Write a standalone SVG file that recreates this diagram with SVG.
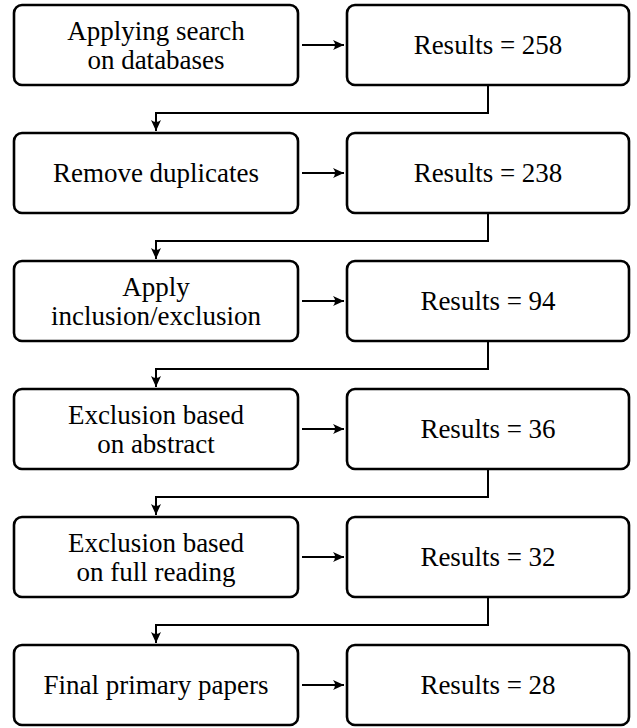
<svg xmlns="http://www.w3.org/2000/svg" width="637" height="728" viewBox="0 0 637 728">
<style>
.box{fill:#fff;stroke:#000;stroke-width:2.6}
text{font-family:'Liberation Serif','Times New Roman',Times,'Nimbus Roman','Nimbus Roman No9 L',FreeSerif,'Noto Serif','DejaVu Serif',Tinos,serif;font-size:27px;fill:#000;text-anchor:middle}
.c{fill:none;stroke:#000;stroke-width:2}
</style>
<defs>
<marker id="ah" markerUnits="userSpaceOnUse" markerWidth="14" markerHeight="12" viewBox="-12 -6 14 12" refX="0" refY="0" orient="auto">
<path d="M0,0 L-11,-5 Q-7,0 -11,5 Z" fill="#000"/>
</marker>
</defs>
<g id="n1"><rect class="box" x="14" y="5" width="284" height="80" rx="8"/><text x="156" y="39.5">Applying search</text><text x="156" y="68.5">on databases</text></g>
<g id="r1"><rect class="box" x="347" y="5" width="282" height="80" rx="8"/><text x="488" y="54">Results = 258</text></g>
<g id="n2"><rect class="box" x="14" y="133" width="284" height="80" rx="8"/><text x="156" y="182">Remove duplicates</text></g>
<g id="r2"><rect class="box" x="347" y="133" width="282" height="80" rx="8"/><text x="488" y="182">Results = 238</text></g>
<g id="n3"><rect class="box" x="14" y="261" width="284" height="80" rx="8"/><text x="156" y="295.5">Apply</text><text x="156" y="324.5">inclusion/exclusion</text></g>
<g id="r3"><rect class="box" x="347" y="261" width="282" height="80" rx="8"/><text x="488" y="310">Results = 94</text></g>
<g id="n4"><rect class="box" x="14" y="389" width="284" height="80" rx="8"/><text x="156" y="423.5">Exclusion based</text><text x="156" y="452.5">on abstract</text></g>
<g id="r4"><rect class="box" x="347" y="389" width="282" height="80" rx="8"/><text x="488" y="438">Results = 36</text></g>
<g id="n5"><rect class="box" x="14" y="517" width="284" height="80" rx="8"/><text x="156" y="551.5">Exclusion based</text><text x="156" y="580.5">on full reading</text></g>
<g id="r5"><rect class="box" x="347" y="517" width="282" height="80" rx="8"/><text x="488" y="566">Results = 32</text></g>
<g id="n6"><rect class="box" x="14" y="645" width="284" height="80" rx="8"/><text x="156" y="694">Final primary papers</text></g>
<g id="r6"><rect class="box" x="347" y="645" width="282" height="80" rx="8"/><text x="488" y="694">Results = 28</text></g>
<g id="connectors">
<path class="c" marker-end="url(#ah)" d="M302,45 H344"/>
<path class="c" marker-end="url(#ah)" d="M302,173 H344"/>
<path class="c" marker-end="url(#ah)" d="M302,301 H344"/>
<path class="c" marker-end="url(#ah)" d="M302,429 H344"/>
<path class="c" marker-end="url(#ah)" d="M302,557 H344"/>
<path class="c" marker-end="url(#ah)" d="M302,685 H344"/>
<path class="c" marker-end="url(#ah)" d="M488,86 V113 H156 V131"/>
<path class="c" marker-end="url(#ah)" d="M488,214 V241 H156 V259"/>
<path class="c" marker-end="url(#ah)" d="M488,342 V369 H156 V387"/>
<path class="c" marker-end="url(#ah)" d="M488,470 V497 H156 V515"/>
<path class="c" marker-end="url(#ah)" d="M488,598 V625 H156 V643"/>
</g>
</svg>
